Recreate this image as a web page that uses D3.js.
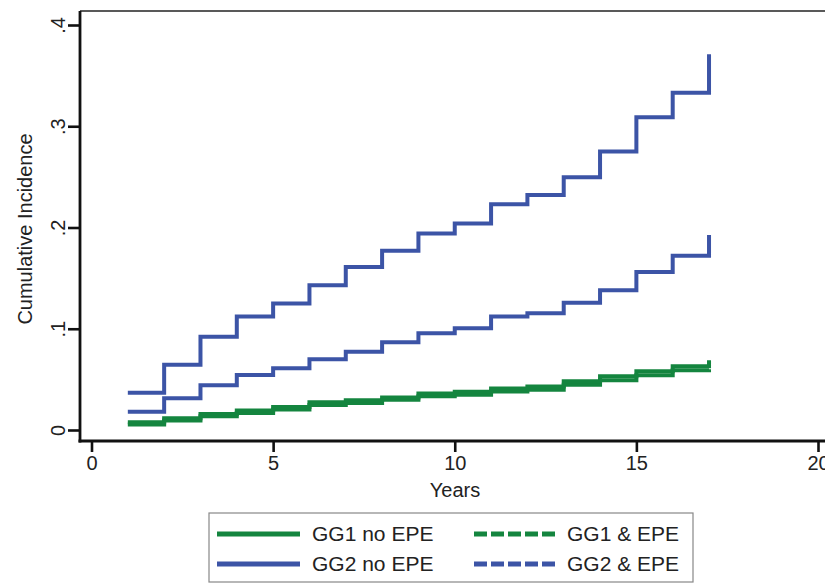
<!DOCTYPE html>
<html>
<head>
<meta charset="utf-8">
<script src="https://cdn.jsdelivr.net/npm/d3@7"></script>
<style>
  html, body { margin: 0; padding: 0; background: #fff; }
  svg { display: block; font-family: "Liberation Sans", Arial, Helvetica, sans-serif; }
</style>
</head>
<body>
<svg id="chart" width="825" height="584"></svg>
<script>
// ---- data ----
const years = [1, 2, 3, 4, 5, 6, 7, 8, 9, 10, 11, 12, 13, 14, 15, 16, 17];
const gg1NoEPE = [0.0055, 0.0095, 0.0137, 0.0168, 0.0202, 0.0247, 0.0267, 0.0298, 0.0333, 0.0349, 0.0381, 0.0397, 0.0447, 0.0492, 0.0540, 0.0590, 0.0600];
const gg1EPE   = [0.0077, 0.0117, 0.0159, 0.0192, 0.0226, 0.0273, 0.0293, 0.0322, 0.0361, 0.0377, 0.0411, 0.0429, 0.0481, 0.0530, 0.0580, 0.0630, 0.0690];
const gg2NoEPE = [0.0180, 0.0313, 0.0441, 0.0543, 0.0610, 0.0698, 0.0773, 0.0866, 0.0955, 0.1004, 0.1120, 0.1153, 0.1257, 0.1380, 0.1560, 0.1720, 0.1926];
const gg2EPE   = [0.0368, 0.0645, 0.0921, 0.1120, 0.1250, 0.1430, 0.1610, 0.1770, 0.1940, 0.2040, 0.2230, 0.2320, 0.2496, 0.2750, 0.3090, 0.3330, 0.3710];
const seriesNames = ["GG1 no EPE", "GG1 & EPE", "GG2 no EPE", "GG2 & EPE"];
const xTicks = [0, 5, 10, 15, 20];
const yTicks = [0, 0.1, 0.2, 0.3, 0.4];
const yTickLabels = ["0", ".1", ".2", ".3", ".4"];

const green = "#14853f";
const blue = "#3c54a6";

const series = [
  { name: seriesNames[0], values: gg1NoEPE, color: green, dash: null },
  { name: seriesNames[1], values: gg1EPE,   color: green, dash: "13,4" },
  { name: seriesNames[2], values: gg2NoEPE, color: blue,  dash: null },
  { name: seriesNames[3], values: gg2EPE,   color: blue,  dash: "13,4" }
];

const svg = d3.select("#chart");
const axisLeftX = 80, axisBottomY = 441, frameTop = 11, frameRight = 826;

const x = d3.scaleLinear().domain([0, 20]).range([91.5, 818]);
const y = d3.scaleLinear().domain([0, 0.4]).range([430, 25]);

// frame top line
svg.append("line")
  .attr("x1", axisLeftX).attr("x2", frameRight)
  .attr("y1", frameTop).attr("y2", frameTop)
  .attr("stroke", "#222").attr("stroke-width", 1.3);

// lines
const line = d3.line()
  .x((d, i) => x(years[i]))
  .y(d => y(d))
  .curve(d3.curveStepAfter);

svg.append("g").selectAll("path")
  .data(series)
  .join("path")
  .attr("d", d => line(d.values))
  .attr("fill", "none")
  .attr("stroke", d => d.color)
  .attr("stroke-width", 4)
  .attr("stroke-linejoin", "miter")
  .attr("stroke-linecap", "butt");

// x axis
const xAxis = d3.axisBottom(x)
  .tickValues(xTicks)
  .tickFormat(d3.format("d"))
  .tickSize(11)
  .tickSizeOuter(0);
const gx = svg.append("g")
  .attr("transform", `translate(0,${axisBottomY})`)
  .call(xAxis);
gx.select(".domain").remove();
gx.append("line")
  .attr("x1", axisLeftX - 1.5).attr("x2", frameRight)
  .attr("y1", 0).attr("y2", 0)
  .attr("stroke", "#111").attr("stroke-width", 2.8);
gx.selectAll(".tick line").attr("stroke", "#111").attr("stroke-width", 2.6);
gx.selectAll(".tick text")
  .attr("y", 15).attr("dy", "0.71em")
  .attr("fill", "#222")
  .style("font-size", "20px");

// y axis
const yAxis = d3.axisLeft(y)
  .tickValues(yTicks)
  .tickFormat((d, i) => yTickLabels[i])
  .tickSize(12)
  .tickSizeOuter(0);
const gy = svg.append("g")
  .attr("transform", `translate(${axisLeftX},0)`)
  .call(yAxis);
gy.select(".domain").remove();
gy.append("line")
  .attr("x1", 0).attr("x2", 0)
  .attr("y1", frameTop).attr("y2", axisBottomY + 1.4)
  .attr("stroke", "#111").attr("stroke-width", 2.8);
gy.selectAll(".tick line").attr("stroke", "#111").attr("stroke-width", 2.6);
gy.selectAll(".tick text")
  .attr("transform", "rotate(-90)")
  .attr("x", 0).attr("y", -15).attr("dy", 0)
  .attr("text-anchor", "middle")
  .attr("fill", "#222")
  .style("font-size", "20px");

// axis titles
svg.append("text")
  .attr("transform", "translate(32,229) rotate(-90)")
  .attr("text-anchor", "middle")
  .attr("fill", "#222")
  .style("font-size", "20px")
  .text("Cumulative Incidence");

svg.append("text")
  .attr("x", 455).attr("y", 497)
  .attr("text-anchor", "middle")
  .attr("fill", "#222")
  .style("font-size", "20px")
  .text("Years");

// legend
const lg = svg.append("g");
lg.append("rect")
  .attr("x", 209).attr("y", 513).attr("width", 484).attr("height", 69)
  .attr("fill", "#fff").attr("stroke", "#888").attr("stroke-width", 1.2);

const legendPos = [
  { lx: 217, ty: 534 }, { lx: 474, ty: 534 },
  { lx: 217, ty: 564 }, { lx: 474, ty: 564 }
];
series.forEach((s, i) => {
  const p = legendPos[i];
  lg.append("line")
    .attr("x1", p.lx).attr("x2", p.lx + 83)
    .attr("y1", p.ty).attr("y2", p.ty)
    .attr("stroke", s.color).attr("stroke-width", 5)
    .attr("stroke-dasharray", s.dash);
  lg.append("text")
    .attr("x", p.lx + (i % 2 === 0 ? 95 : 93))
    .attr("y", p.ty).attr("dy", "0.35em")
    .attr("fill", "#222")
    .style("font-size", "21px")
    .text(s.name);
});
</script>
</body>
</html>
